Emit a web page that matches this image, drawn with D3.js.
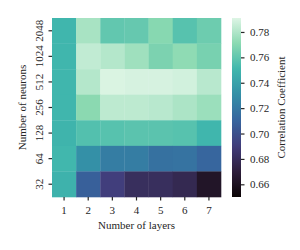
<!DOCTYPE html>
<html><head><meta charset="utf-8">
<script src="https://cdn.jsdelivr.net/npm/d3@7"></script>
<style>body{margin:0;background:#fff}svg{display:block}text{font-family:"Liberation Serif","DejaVu Serif",serif;fill:#262626}</style>
</head><body><svg id="c" width="300" height="250"></svg>
<script>
const layers = [1,2,3,4,5,6,7];
const neurons = [2048,1024,512,256,128,64,32];
// values[row][col], rows follow `neurons` order (top to bottom)
const row2048 = [0.750,0.778,0.760,0.761,0.770,0.757,0.763];
const row1024 = [0.750,0.784,0.781,0.776,0.767,0.772,0.766];
const row512  = [0.750,0.781,0.790,0.789,0.789,0.788,0.782];
const row256  = [0.750,0.771,0.783,0.783,0.782,0.779,0.775];
const row128  = [0.749,0.756,0.757,0.758,0.758,0.757,0.750];
const row64   = [0.751,0.731,0.722,0.722,0.716,0.717,0.711];
const row32   = [0.748,0.708,0.691,0.681,0.681,0.677,0.663];
const values = [row2048,row1024,row512,row256,row128,row64,row32];
const cbarTicks = [0.66,0.68,0.70,0.72,0.74,0.76,0.78];
const vmin = 0.650, vmax = 0.791;

const makoStops = ["#0B0405","#2E1E3B","#413D7B","#37659E","#348FA7","#40B7AD","#8AD9B1","#DEF5E5"];
const mako = d3.scaleLinear().domain(makoStops.map((d,i)=>i/(makoStops.length-1))).range(makoStops).interpolate(d3.interpolateRgb).clamp(true);
const norm = d3.scaleLinear().domain([vmin,vmax]).range([0,1]);
const color = v => mako(norm(v));

const svg = d3.select("#c");
const L=52, R=221, T=18, B=197;
const x = d3.scaleBand().domain(layers).range([L,R]).padding(0);
const y = d3.scaleBand().domain(neurons).range([T,B]).padding(0);

const cells = [];
neurons.forEach((n,i)=>layers.forEach((l,j)=>cells.push({n,l,v:values[i][j]})));
svg.append("g").selectAll("rect").data(cells).join("rect")
  .attr("x",d=>x(d.l)).attr("y",d=>y(d.n))
  .attr("width",x.bandwidth()+0.3).attr("height",y.bandwidth()+0.3)
  .attr("fill",d=>color(d.v));

const fs = 11;
const xa = svg.append("g").attr("transform",`translate(0,${B})`)
  .call(d3.axisBottom(x).tickSize(3.5).tickPadding(6));
xa.select(".domain").remove();
xa.selectAll("line").attr("stroke","#262626").attr("stroke-width",1.2);
xa.selectAll("text").attr("font-size",fs).style("font-family","Liberation Serif");

const ya = svg.append("g").attr("transform",`translate(${L},0)`)
  .call(d3.axisLeft(y).tickSize(3.5).tickPadding(3));
ya.select(".domain").remove();
ya.selectAll("line").attr("stroke","#262626").attr("stroke-width",1.2);
ya.selectAll("text").attr("font-size",fs).style("font-family","Liberation Serif")
  .attr("text-anchor","middle").attr("x",0)
  .attr("transform","translate(-12.5,0) rotate(-90)").attr("dy","0.35em");

svg.append("text").attr("x",(L+R)/2).attr("y",229).attr("text-anchor","middle")
  .attr("font-size",fs).text("Number of layers");
svg.append("text").attr("transform",`translate(25.5,${(T+B)/2}) rotate(-90)`).attr("text-anchor","middle")
  .attr("font-size",fs).text("Number of neurons");

// colorbar
const CL=232, CW=9;
const defs = svg.append("defs");
const grad = defs.append("linearGradient").attr("id","g").attr("x1",0).attr("y1",1).attr("x2",0).attr("y2",0);
d3.range(0,1.0001,0.02).forEach(t=>grad.append("stop").attr("offset",t).attr("stop-color",mako(t)));
svg.append("rect").attr("x",CL).attr("y",T).attr("width",CW).attr("height",B-T).attr("fill","url(#g)");
const cy = d3.scaleLinear().domain([vmin,vmax]).range([B,T]);
const ca = svg.append("g").attr("transform",`translate(${CL+CW},0)`)
  .call(d3.axisRight(cy).tickValues(cbarTicks).tickFormat(d3.format(".2f")).tickSize(3.5).tickPadding(5.5));
ca.select(".domain").remove();
ca.selectAll("line").attr("stroke","#262626").attr("stroke-width",1.2);
ca.selectAll("text").attr("font-size",fs).style("font-family","Liberation Serif");
svg.append("text").attr("transform",`translate(285,${(T+B)/2}) rotate(-90)`).attr("text-anchor","middle")
  .attr("font-size",fs).text("Correlation Coefficient");
</script></body></html>
